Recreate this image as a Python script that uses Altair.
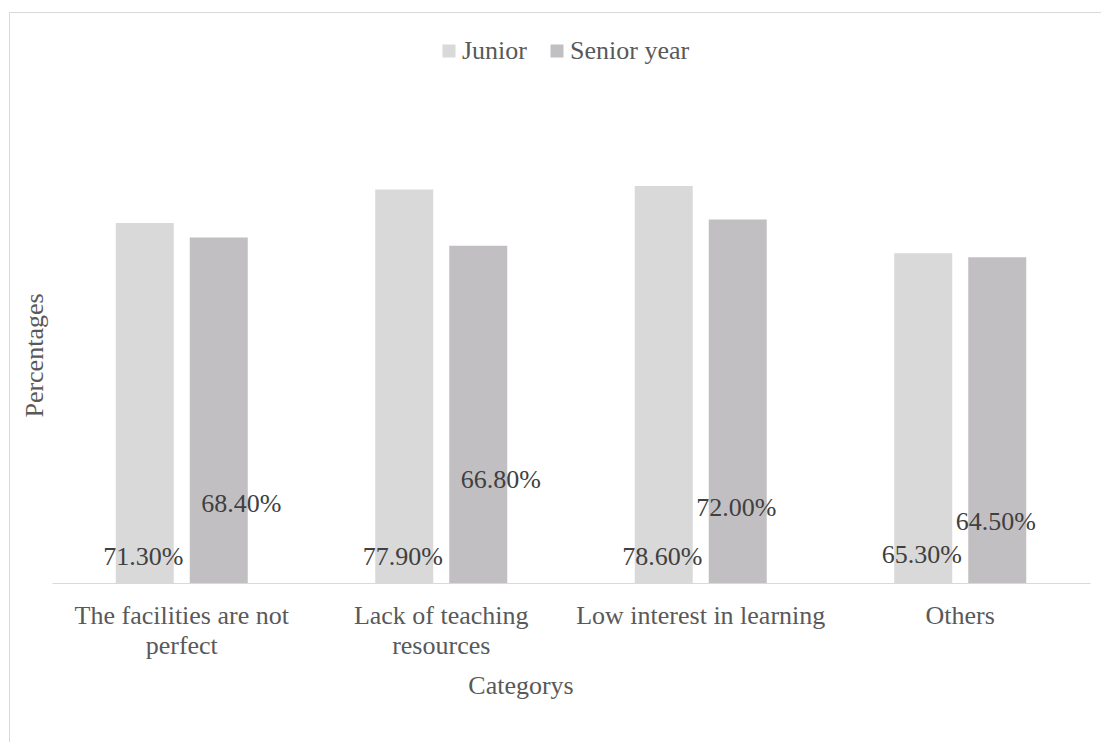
import altair as alt
import pandas as pd

# ---- data ----
categories = ["The facilities are not perfect", "Lack of teaching resources",
              "Low interest in learning", "Others"]
series = ["Junior", "Senior year"]
junior = [71.3, 77.9, 78.6, 65.3]
senior = [68.4, 66.8, 72.0, 64.5]

# ---- layout of the data labels (as placed in the reference) ----
junior_label_at = [3.6, 3.6, 3.6, 4.0]      # label baseline, in axis units
senior_label_at = [14.0, 18.8, 13.3, 10.5]
senior_label_shift = [True, True, False, False]  # label pushed to the right of its bar

rows = []
for i, c in enumerate(categories):
    rows.append({"cat": c, "series": series[0], "value": junior[i],
                 "label": f"{junior[i]:.2f}%", "lab_at": junior_label_at[i], "shift": False})
    rows.append({"cat": c, "series": series[1], "value": senior[i],
                 "label": f"{senior[i]:.2f}%", "lab_at": senior_label_at[i],
                 "shift": senior_label_shift[i]})
df = pd.DataFrame(rows)

FONT = "Liberation Serif"
TXT = "#595959"

x_enc = alt.X("cat:N", sort=categories,
              scale=alt.Scale(paddingInner=0.4913, paddingOuter=0.2457),
              axis=alt.Axis(title="Categorys", labelAngle=0, ticks=False, tickSize=0,
                            labelPadding=19.5, labelFontSize=26, labelFont=FONT,
                            labelColor=TXT, labelLineHeight=30, labelLimit=600,
                            domainColor="#d9d9d9", domainWidth=1.2, grid=False,
                            labelExpr="datum.label == 'The facilities are not perfect' ? ['The facilities are not', 'perfect'] : datum.label == 'Lack of teaching resources' ? ['Lack of teaching', 'resources'] : datum.label",
                            titleFontSize=26, titleFont=FONT, titleColor=TXT,
                            titleFontWeight="normal", titleX=468.5, titleY=110,
                            titleBaseline="alphabetic", titleAlign="center"))
xoff_enc = alt.XOffset("series:N", sort=series,
                       scale=alt.Scale(paddingInner=0.2162, paddingOuter=0))
y_scale = alt.Scale(domain=[0, 100], nice=False, zero=True)

bars = alt.Chart(df).mark_bar(size=58).encode(
    x=x_enc,
    xOffset=xoff_enc,
    y=alt.Y("value:Q", scale=y_scale,
            axis=alt.Axis(title="Percentages", labels=False, ticks=False, domain=False,
                          grid=False, titleFontSize=26, titleFont=FONT, titleColor=TXT,
                          titleFontWeight="normal", titleX=-18, titleY=277,
                          titleBaseline="middle", titleAngle=270)),
    color=alt.Color("series:N", sort=series,
                    scale=alt.Scale(domain=series, range=["#d9d9d9", "#c1bfc2"]),
                    legend=alt.Legend(title=None, orient="none", legendX=384, legendY=-40,
                                      direction="horizontal", symbolType="square",
                                      symbolSize=169, symbolStrokeWidth=0,
                                      labelFontSize=26, labelFont=FONT, labelColor=TXT,
                                      labelOffset=0, columnPadding=17, padding=0)),
)

def labels(filter_expr, dx):
    return alt.Chart(df).transform_filter(filter_expr).mark_text(
        font=FONT, fontSize=26, color="#404040", align="center",
        baseline="alphabetic", dx=dx
    ).encode(
        x=alt.X("cat:N", sort=categories),
        xOffset=alt.XOffset("series:N", sort=series),
        y=alt.Y("lab_at:Q", scale=y_scale),
        text="label:N",
    )

lab_plain = labels("!datum.shift", -1.5)
lab_shift = labels("datum.shift", 22.5)

border = alt.Chart(alt.Data(values=[{}])).mark_rect(
    fillOpacity=0, stroke="#d9d9d9", strokeWidth=1
).encode(
    x=alt.value(-42.5), x2=alt.value(1070),
    y=alt.value(-65.5), y2=alt.value(690),
)

chart = alt.layer(border, bars, lab_plain, lab_shift).resolve_scale(
    x="shared", y="shared"
).properties(
    width=1038, height=505,
    padding={"left": 52, "top": 78, "right": 11, "bottom": 159},
    autosize=alt.AutoSizeParams(type="none"),
    background="white",
).configure_view(strokeWidth=0)

chart.save("out.html", embed_options={"renderer": "svg", "actions": False})
